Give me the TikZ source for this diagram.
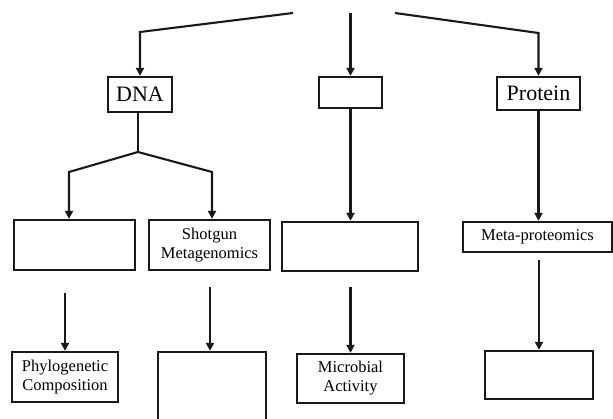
\documentclass[tikz,border=0pt]{standalone}
\usepackage{fontspec}
\setmainfont{Liberation Serif}
\usetikzlibrary{arrows.meta}
\begin{document}
\begin{tikzpicture}[x=1pt,y=-1pt,
  box/.style={draw=black!90,line width=2.3pt,inner sep=0pt,align=center,fill=white},
  bigtxt/.style={font=\fontsize{22}{24}\selectfont},
  smalltxt/.style={font=\fontsize{16.5}{19}\selectfont},
  conn/.style={draw=black!90,line width=2.1pt},
  arr/.style={conn,-{Triangle[width=8pt,length=8pt]}}]
\useasboundingbox (0,0) rectangle (613,419);
\clip (0,0) rectangle (613,419);
% top row
\node[box,bigtxt,minimum width=64pt,minimum height=35pt] (dna) at (140,94.5) {DNA};
\node[box,minimum width=63pt,minimum height=31pt] (mid) at (350.5,92.5) {};
\node[box,bigtxt,minimum width=83pt,minimum height=33pt] (prot) at (538.5,93.5) {Protein};
% middle row
\node[box,minimum width=121pt,minimum height=50pt] (b1) at (74.5,245) {};
\node[box,smalltxt,minimum width=121pt,minimum height=50pt] (shot) at (209.5,245) {Shotgun\\Metagenomics};
\node[box,minimum width=136pt,minimum height=49pt] (b3) at (350,246.5) {};
\node[box,smalltxt,minimum width=149pt,minimum height=30pt] (meta) at (537.5,237) {Meta-proteomics};
% bottom row
\node[box,smalltxt,minimum width=106pt,minimum height=50pt] (phylo) at (65,377) {Phylogenetic\\Composition};
\node[box,minimum width=108pt,minimum height=78pt] (c2) at (212,391) {};
\node[box,smalltxt,minimum width=107pt,minimum height=49pt] (micro) at (350.5,378.5) {Microbial\\Activity};
\node[box,minimum width=108pt,minimum height=48pt] (c4) at (539,375) {};
% top connectors
\coordinate (t1) at (293,13);
\coordinate (t2) at (350.5,13);
\coordinate (t3) at (395,13);
\coordinate (k1) at (140,32);
\coordinate (k3) at (538.5,33);
\draw[arr] (t1) -- (k1) -- (dna.north);
\draw[arr] (t2) -- (mid.north);
\draw[arr] (t3) -- (k3) -- (prot.north);
% DNA branch
\coordinate (j) at (138,152);
\coordinate (jl) at (69,172);
\coordinate (jr) at (212,172);
\draw[conn] (dna.south -| j) -- (j);
\draw[arr] (j) -- (jl) -- (jl |- b1.north);
\draw[arr] (j) -- (jr) -- (jr |- shot.north);
\draw[arr] (mid.south) -- (b3.north -| mid.south);
\draw[arr] (prot.south) -- (meta.north -| prot.south);
% lower arrows
\coordinate (a1) at (65,293);
\coordinate (a2) at (210,287);
\coordinate (a3) at (350.5,287);
\coordinate (a4) at (539,260);
\draw[arr] (a1) -- (a1 |- phylo.north);
\draw[arr] (a2) -- (a2 |- c2.north);
\draw[arr] (a3) -- (a3 |- micro.north);
\draw[arr] (a4) -- (a4 |- c4.north);
\end{tikzpicture}
\end{document}
